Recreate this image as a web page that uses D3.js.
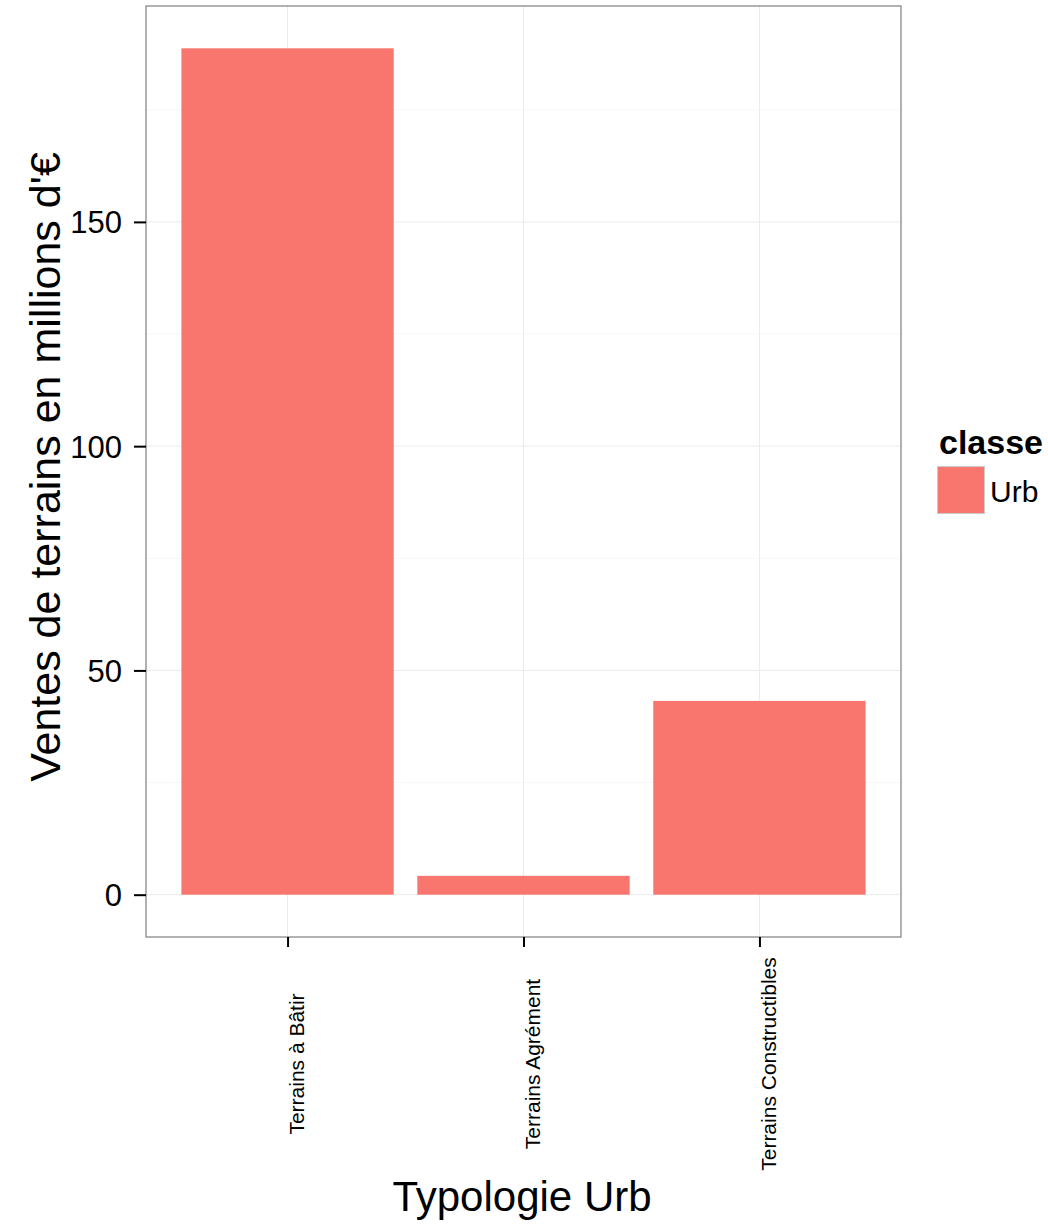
<!DOCTYPE html>
<html><head><meta charset="utf-8">
<script src="https://cdn.jsdelivr.net/npm/d3@7"></script>
<style>body{margin:0;background:#fff;} text{font-family:"Liberation Sans",Arial,sans-serif;}</style>
</head><body>
<svg id="c" width="1048" height="1224"></svg>
<script>
const categories = ["Terrains à Bâtir", "Terrains Agrément", "Terrains Constructibles"];
const values = [188.7, 4.2, 43.2];
const yTicks = [0, 50, 100, 150];
const yMinor = [25, 75, 125, 175];
const seriesName = "Urb";
const legendTitle = "classe";
const xTitle = "Typologie Urb";
const yTitle = "Ventes de terrains en millions d'€";
const barColor = "#F8766D";

const svg = d3.select("#c");
const L = 146, R = 901, T = 6, B = 937;
const maxV = d3.max(values);
const x = d3.scaleLinear().domain([0.4, categories.length + 0.6]).range([L, R]);
const y = d3.scaleLinear().domain([-0.05 * maxV, maxV * 1.05]).range([B, T]);

svg.append("rect").attr("x", L).attr("y", T).attr("width", R - L).attr("height", B - T).attr("fill", "#fff");
// minor grid
svg.selectAll(".gmin").data(yMinor).enter().append("line")
  .attr("x1", L).attr("x2", R).attr("y1", d => y(d)).attr("y2", d => y(d))
  .attr("stroke", "#f7f7f7").attr("stroke-width", 1);
// major grid
svg.selectAll(".gmaj").data(yTicks).enter().append("line")
  .attr("x1", L).attr("x2", R).attr("y1", d => y(d)).attr("y2", d => y(d))
  .attr("stroke", "#ebebeb").attr("stroke-width", 1);
svg.selectAll(".gx").data(categories).enter().append("line")
  .attr("y1", T).attr("y2", B).attr("x1", (d, i) => x(i + 1)).attr("x2", (d, i) => x(i + 1))
  .attr("stroke", "#ebebeb").attr("stroke-width", 1);
// bars
svg.selectAll(".bar").data(values).enter().append("rect")
  .attr("x", (d, i) => x(i + 1 - 0.45)).attr("width", x(1.45) - x(0.55))
  .attr("y", d => y(d)).attr("height", d => y(0) - y(d)).attr("fill", barColor);
// border
svg.append("rect").attr("x", L).attr("y", T).attr("width", R - L).attr("height", B - T)
  .attr("fill", "none").attr("stroke", "#7f7f7f").attr("stroke-width", 1.2);

// y axis
const yAx = svg.append("g").attr("transform", `translate(${L},0)`)
  .call(d3.axisLeft(y).tickValues(yTicks).tickSize(12).tickPadding(12));
yAx.select(".domain").remove();
yAx.selectAll("line").attr("stroke", "#000").attr("stroke-width", 2);
yAx.selectAll("text").attr("font-size", 31).attr("fill", "#000").attr("dy", "0.35em")
  .style("font-family", "Liberation Sans, Arial, sans-serif");

// x axis
const xAx = svg.append("g").attr("transform", `translate(0,${B})`)
  .call(d3.axisBottom(x).tickValues(categories.map((d, i) => i + 1)).tickFormat(i => categories[i - 1]).tickSize(10));
xAx.select(".domain").remove();
xAx.selectAll("line").attr("stroke", "#000").attr("stroke-width", 2);
xAx.selectAll("text").attr("font-size", 21).attr("fill", "#000")
  .attr("transform", "translate(0,127) rotate(-90)").attr("y", 0).attr("dy", 16)
  .attr("text-anchor", "middle")
  .style("font-family", "Liberation Sans, Arial, sans-serif");

// titles
svg.append("text").attr("x", 522).attr("y", 1211).attr("text-anchor", "middle")
  .attr("font-size", 42).text(xTitle);
svg.append("text").attr("transform", `translate(60,467) rotate(-90)`).attr("text-anchor", "middle")
  .attr("font-size", 43).text(yTitle);

// legend
svg.append("text").attr("x", 939).attr("y", 454).attr("font-size", 34).attr("font-weight", "bold").text(legendTitle);
svg.append("rect").attr("x", 937.5).attr("y", 466.5).attr("width", 47).attr("height", 47)
  .attr("fill", barColor).attr("stroke", "#cccccc").attr("stroke-width", 1);
svg.append("text").attr("x", 990).attr("y", 502).attr("font-size", 30).text(seriesName);
</script>
</body></html>
